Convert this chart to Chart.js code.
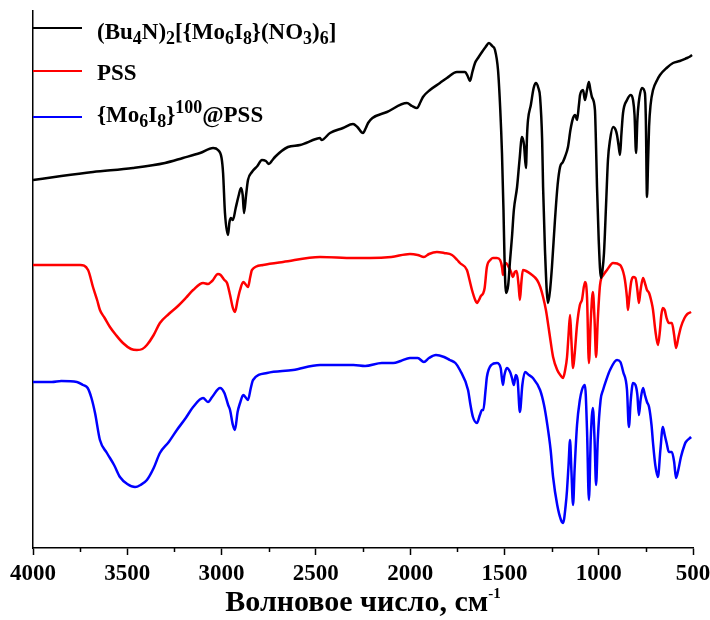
<!DOCTYPE html>
<html>
<head>
<meta charset="utf-8">
<script src="https://cdn.jsdelivr.net/npm/chart.js@4.4.0/dist/chart.umd.min.js"></script>
<style>
  body { margin: 0; background: #fff; }
  #wrap { position: relative; width: 710px; height: 620px; font-family: 'Liberation Serif', 'Times New Roman', serif; }
  .lg-row { position: absolute; left: 33px; height: 23px; font-weight: bold; font-size: 23px; line-height: 23px; white-space: nowrap; }
  .lg-line { position: absolute; left: 0; width: 49px; height: 2px; }
  .lg-text { position: absolute; left: 64px; top: 0; }
  sub { font-size: 0.78em; vertical-align: -0.26em; line-height: 0; }
  sup { font-size: 0.78em; vertical-align: 0.5em; line-height: 0; }
  #xtitle { position: absolute; left: 33px; width: 660px; top: 586px; text-align: center; font-weight: bold; font-size: 30px; line-height: 30px; }
  #xtitle sup { font-size: 0.5em; vertical-align: 0.9em; }
</style>
</head>
<body>
<div id="wrap">
  <canvas id="ir" width="710" height="620"></canvas>
  <div id="legend"></div>
  <div id="xtitle">Волновое число, см<sup>-1</sup></div>
</div>
<script>
// ===== IR SPECTRA =====
// transmittance in arbitrary units (curves are offset), wavenumber in cm-1
const xTicks = [4000, 3500, 3000, 2500, 2000, 1500, 1000, 500];

const clusterWn = [4000,3850,3682,3470,3300,3205,3114,3045,3019,3000,2992,2982,2966,2958,2950,2940,2925,2910,2897,2888,2881,2870,2860,2839,2810,2786,2765,2749,2730,2717,2648,2584,2500,2478,2470,2425,2356,2303,2280,2250,2235,2223,2200,2123,2017,1990,1964,1945,1932,1895,1842,1805,1752,1709,1695,1683,1670,1656,1640,1619,1600,1582,1565,1550,1534,1522,1513,1505,1500,1492,1480,1470,1460,1450,1433,1420,1407,1396,1386,1380,1375,1360,1345,1333,1320,1311,1300,1295,1285,1269,1258,1248,1232,1218,1205,1190,1179,1163,1150,1136,1125,1115,1105,1099,1083,1073,1062,1052,1044,1036,1020,1015,1009,1000,988,980,972,960,951,940,924,910,903,895,887,880,871,850,829,818,810,802,795,788,770,755,750,744,738,733,725,712,690,675,640,606,570,532,520,505];
const clusterT = [368,372,376,380,385,390,395,400,398,390,375,335,313,326,330,328,340,352,360,353,335,353,368,376,382,388,387,384,388,391,401,403,409,410,408,415,420,424,421,415,420,425,430,436,445,442,440,446,451,458,465,470,476,476,472,467,476,485,490,496,501,505,502,498,478,438,395,338,293,255,263,288,311,338,361,388,411,403,380,413,428,443,460,465,460,451,408,361,298,245,258,281,328,363,381,386,391,401,418,430,433,428,443,453,458,448,458,466,458,451,438,408,361,308,270,278,295,348,388,408,421,418,413,403,393,413,435,448,453,448,433,395,428,445,460,455,428,351,388,421,443,458,468,473,480,485,487,490,491,493];

const pssWn = [4000,3900,3750,3708,3682,3660,3645,3620,3592,3560,3523,3480,3449,3420,3396,3360,3327,3280,3237,3190,3151,3098,3072,3050,3019,3005,2985,2971,2955,2940,2929,2915,2902,2885,2870,2860,2848,2839,2780,2674,2478,2300,2213,2100,2001,1960,1927,1900,1858,1820,1778,1750,1736,1699,1685,1672,1655,1646,1635,1625,1619,1612,1605,1593,1575,1561,1540,1523,1512,1508,1500,1492,1480,1465,1455,1445,1435,1425,1418,1410,1402,1385,1360,1327,1310,1295,1280,1274,1260,1242,1220,1200,1189,1178,1168,1160,1152,1145,1136,1128,1115,1100,1089,1073,1062,1052,1042,1031,1022,1014,1005,993,975,956,924,887,870,861,850,845,838,828,818,805,795,787,778,765,752,744,733,720,712,700,686,675,668,660,650,640,628,612,600,590,578,564,545,530,510];
const pssT = [283,283,283,278,261,248,238,230,221,213,205,199,198,199,203,213,225,234,241,250,258,265,264,267,274,273,268,265,253,240,236,248,258,266,263,261,271,278,283,286,291,290,290,291,294,293,291,294,296,295,293,288,285,278,268,258,248,245,248,252,253,255,260,281,288,290,290,288,280,273,283,285,282,276,271,276,277,263,248,266,278,277,274,268,261,251,238,231,213,191,178,172,170,178,191,213,233,208,180,193,223,243,248,266,251,185,228,256,228,191,228,263,273,278,285,283,276,268,250,238,250,266,271,270,258,245,258,270,263,258,255,246,238,218,203,218,233,240,238,230,225,225,213,200,210,221,230,234,236];

const compWn = [4000,3900,3850,3767,3735,3710,3690,3671,3645,3608,3570,3539,3500,3459,3430,3396,3360,3327,3280,3237,3190,3151,3098,3072,3050,3008,2985,2965,2955,2940,2929,2915,2902,2885,2870,2860,2845,2833,2759,2621,2478,2300,2239,2150,2090,2050,2001,1960,1927,1900,1863,1820,1790,1760,1736,1693,1680,1667,1646,1630,1619,1612,1600,1593,1570,1540,1520,1508,1500,1487,1470,1460,1450,1440,1430,1418,1405,1391,1370,1349,1311,1290,1274,1255,1242,1220,1200,1189,1175,1168,1160,1152,1145,1136,1128,1115,1100,1089,1073,1062,1052,1042,1031,1022,1014,1005,990,977,960,940,903,885,870,850,840,830,818,805,795,787,778,765,755,744,733,720,712,700,686,673,660,650,640,628,612,600,590,578,564,545,538,510];
const compT = [166,166,167,166,163,160,150,135,108,95,83,71,64,61,63,68,80,95,106,118,130,141,150,146,151,160,155,143,138,123,118,136,145,153,150,148,160,168,175,178,183,183,182,185,185,187,190,190,186,190,193,191,188,185,178,158,143,131,125,133,138,138,158,171,183,185,180,163,173,180,176,170,163,173,168,136,163,176,173,170,158,143,125,98,71,43,28,25,43,58,83,108,78,43,78,123,148,158,163,118,48,111,140,108,63,108,148,158,168,178,188,186,176,158,121,148,165,163,153,133,148,160,153,146,141,123,105,83,71,98,121,113,105,96,96,86,70,78,91,103,106,111];

const seriesNames = [
  '(Bu<sub>4</sub>N)<sub>2</sub>[{Mo<sub>6</sub>I<sub>8</sub>}(NO<sub>3</sub>)<sub>6</sub>]',
  'PSS',
  '{Mo<sub>6</sub>I<sub>8</sub>}<sup>100</sup>@PSS'
];
const seriesColors = ['#000000', '#ff0000', '#0000ff'];

const pts = (wn, t) => wn.map((x, i) => ({ x, y: t[i] }));
const serif = "'Liberation Serif', 'Times New Roman', serif";

// minor ticks between the labelled ones
const minorTicks = {
  id: 'minorTicks',
  afterDraw(chart) {
    const sx = chart.scales.x, ctx = chart.ctx, y0 = chart.chartArea.bottom;
    ctx.save();
    ctx.strokeStyle = '#000';
    ctx.lineWidth = 1.5;
    for (let v = 750; v < 4000; v += 500) {
      const px = Math.round(sx.getPixelForValue(v)) + 0.5;
      ctx.beginPath(); ctx.moveTo(px, y0); ctx.lineTo(px, y0 + 4); ctx.stroke();
    }
    ctx.restore();
  }
};

const chart = new Chart(document.getElementById('ir').getContext('2d'), {
  type: 'line',
  data: {
    datasets: [
      { label: 'cluster', data: pts(clusterWn, clusterT) },
      { label: 'PSS', data: pts(pssWn, pssT) },
      { label: 'composite', data: pts(compWn, compT) }
    ].map((d, i) => ({ ...d, borderColor: seriesColors[i], borderWidth: 2.5, pointRadius: 0,
      fill: false, cubicInterpolationMode: 'monotone' }))
  },
  options: {
    responsive: false,
    devicePixelRatio: 1,
    animation: false,
    layout: { padding: { left: 33, right: 17, top: 11, bottom: 0 } },
    plugins: { legend: { display: false }, tooltip: { enabled: false } },
    scales: {
      x: {
        type: 'linear', reverse: true, min: 500, max: 4000,
        afterFit: s => { s.height = 72; s.paddingLeft = 0; s.paddingRight = 0; },
        afterBuildTicks: s => { s.ticks = xTicks.map(v => ({ value: v })); },
        border: { display: true, color: '#000', width: 1.5 },
        grid: { display: true, drawOnChartArea: false, drawTicks: true, tickLength: 7, tickColor: '#000', tickWidth: 1.5 },
        ticks: { color: '#000', padding: 5, maxRotation: 0, autoSkip: false,
          callback: v => String(v),
          font: { family: serif, size: 23, weight: 'bold' } }
      },
      y: {
        min: 0, max: 537,
        afterFit: s => { s.width = 0; },
        border: { display: true, color: '#000', width: 1.5 },
        grid: { display: false },
        ticks: { display: false }
      }
    }
  },
  plugins: [minorTicks]
});

// legend with sub/superscripts
const rowTops = [20, 61, 103];
const lineTops = [27, 70, 116];
document.getElementById('legend').innerHTML = seriesNames.map((name, i) => `
  <div class="lg-row" style="top:${rowTops[i]}px">
    <div class="lg-line" style="top:${lineTops[i] - rowTops[i]}px;background:${seriesColors[i]}"></div>
    <div class="lg-text">${name}</div>
  </div>`).join('');
</script>
</body>
</html>
